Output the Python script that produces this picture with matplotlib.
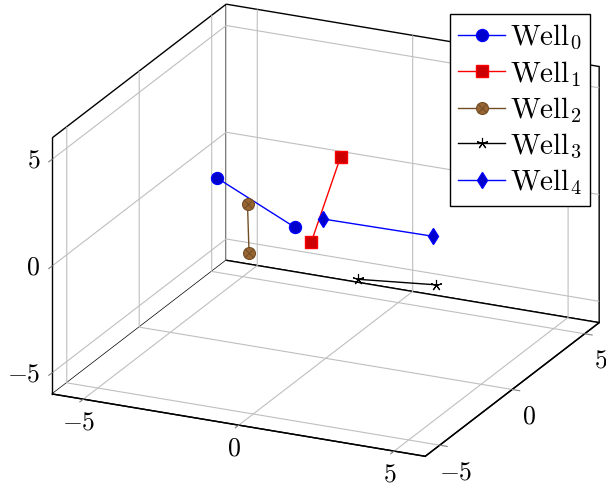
import numpy as np
import matplotlib
matplotlib.use("Agg")
import matplotlib.pyplot as plt
from matplotlib.path import Path

plt.rcParams['mathtext.fontset'] = 'cm'
plt.rcParams['grid.color'] = '#bfbfbf'
plt.rcParams['grid.linewidth'] = 0.8

# well trajectories (x, y, z)
well0_x = [-3.5, -1.0]
well0_y = [0.0, 0.0]
well0_z = [1.6, -0.1]

well1_x = [-0.45, -1.4]
well1_y = [2.0, 2.0]
well1_z = [2.3, -1.95]

well2_x = [-2.05, -2.0]
well2_y = [-1.0, -1.0]
well2_z = [1.25, -1.05]

well3_x = [-0.35, 2.15]
well3_y = [3.0, 3.0]
well3_z = [-3.95, -3.6]

well4_x = [-1.5, 2.05]
well4_y = [3.0, 3.0]
well4_z = [-1.4, -1.35]

labels = [r'$\mathrm{Well}_0$', r'$\mathrm{Well}_1$', r'$\mathrm{Well}_2$',
          r'$\mathrm{Well}_3$', r'$\mathrm{Well}_4$']
ticks = [-5, 0, 5]
tick_labels = [r'$-5$', r'$0$', r'$5$']

# circle with a cross (pgfplots otimes*)
otimes = Path.make_compound_path(
    Path.unit_circle(),
    Path([(-0.7, -0.7), (0.7, 0.7), (-0.7, 0.7), (0.7, -0.7)],
         [Path.MOVETO, Path.LINETO, Path.MOVETO, Path.LINETO]))

fig = plt.figure(figsize=(6.06, 4.88), dpi=100)
ax = fig.add_axes([0.0266, 0.0147, 1, 1], projection='3d')
ax.set_proj_type('ortho')
ax.view_init(elev=21, azim=-65)
ax.set_box_aspect((1.5, 1.5, 1), zoom=1.28)

ax.plot(well0_x, well0_y, well0_z, color='blue', lw=1, marker='o', ms=8.6,
        mfc=(0, 0, 0.8), mec='blue', label=labels[0])
ax.plot(well1_x, well1_y, well1_z, color='red', lw=1, marker='s', ms=8.6,
        mfc=(0.8, 0, 0), mec='red', label=labels[1])
ax.plot(well2_x, well2_y, well2_z, color=(0.45, 0.3, 0.15), lw=1, marker=otimes, ms=8.6,
        mfc=(0.6, 0.4, 0.2), mec=(0.45, 0.3, 0.15), mew=0.8, label=labels[2])
ax.plot(well3_x, well3_y, well3_z, color='black', lw=1, marker=(5, 2, 0), ms=8,
        mec='black', mew=0.8, label=labels[3])
ax.plot(well4_x, well4_y, well4_z, color='blue', lw=1, marker='d', ms=8,
        mfc=(0, 0, 0.8), mec='blue', label=labels[4])

ax.set_xlim(-6, 6)
ax.set_ylim(-6, 6)
ax.set_zlim(-6, 6)
for axis in (ax.xaxis, ax.yaxis, ax.zaxis):
    axis.set_ticks(ticks)
    axis.set_ticklabels(tick_labels)
    axis.set_pane_color('white')
    axis.pane.set_edgecolor('black')
    axis.pane.set_linewidth(1.0)
    axis.line.set_color('black')
    axis.line.set_linewidth(1.0)
    axis._axinfo['tick']['inward_factor'] = 0.25
    axis._axinfo['tick']['outward_factor'] = 0.0
ax.zaxis.set_ticks_position('lower')
ax.tick_params(color='0.5', labelsize=18.5)
ax.tick_params(axis='x', pad=-3)
ax.tick_params(axis='y', pad=0)
ax.tick_params(axis='z', pad=-4)
for t in ax.zaxis.get_ticklabels():
    t.set_ha('right')
    t.set_va('center')
ax.grid(True)

fig.legend(loc='upper right', bbox_to_anchor=(0.974, 0.971), borderaxespad=0,
           fontsize=21, fancybox=False, edgecolor='black', framealpha=1,
           handlelength=1.6, handletextpad=0.15, labelspacing=0.22, borderpad=0.3)

fig.savefig('out.png', dpi=100)
